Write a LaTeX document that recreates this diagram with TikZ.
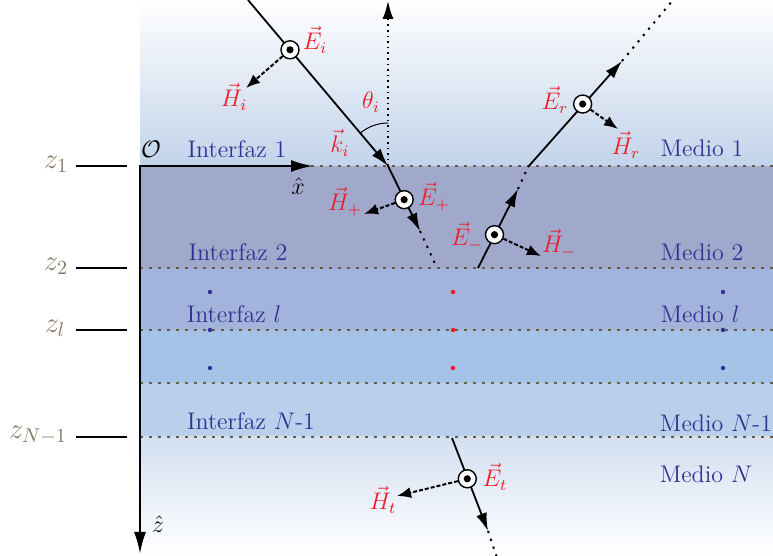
\documentclass[tikz,border=0pt]{standalone}
\usetikzlibrary{arrows.meta,calc}
\definecolor{lblue}{RGB}{46,49,146}
\definecolor{lred}{RGB}{237,28,36}
\definecolor{zbrown}{RGB}{135,120,95}
\definecolor{ifc}{RGB}{110,90,60}
\definecolor{mtwo}{RGB}{160,168,204}
\definecolor{ml}{RGB}{162,180,220}
\definecolor{mlb}{RGB}{165,195,230}
\definecolor{mnone}{RGB}{185,208,236}
\definecolor{mntop}{RGB}{211,224,241}
\definecolor{topb}{RGB}{194,211,234}
\begin{document}
\begin{tikzpicture}[x=0.5pt,y=-0.5pt,
  every node/.style={font=\large},
  bluelbl/.style={text=lblue},
  redlbl/.style={text=lred},
  zlbl/.style={text=zbrown,font=\Large},
  ifcline/.style={ifc,line width=0.7pt,dash pattern=on 1.5pt off 3pt},
  ray/.style={line width=0.9pt,-{Latex[length=9pt,width=5.5pt]}},
  dotext/.style={line width=1pt,dash pattern=on 1.1pt off 3pt},
  harrow/.style={line width=1pt,dash pattern=on 2pt off 1pt,-{Latex[length=7pt,width=5.5pt]}},
  ecirc/.style={circle,draw,fill=white,line width=0.7pt,minimum size=9pt,inner sep=0pt},
  axis/.style={line width=1.2pt,{Latex[length=11pt,width=6pt]}-{Latex[length=11pt,width=6pt]}},
  tick/.style={line width=0.9pt}
]
\useasboundingbox (0,0) rectangle (773,556);
\fill[white] (0,0) rectangle (773,556);
% backgrounds
\shade[top color=white,bottom color=topb] (140,0) rectangle (773,166);
\fill[mtwo] (140,166) rectangle (773,268);
\fill[ml] (140,268) rectangle (773,330);
\fill[mlb] (140,330) rectangle (773,383);
\fill[mnone] (140,383) rectangle (773,437);
\shade[top color=mntop,bottom color=white] (140,437) rectangle (773,556);
% interfaces
\foreach \yy in {166,268,330,383,437} \draw[ifcline] (140,\yy) -- (773,\yy);
% dots
\foreach \yy in {292,330,368} {
  \fill[lblue] (210,\yy) circle[radius=1.1pt];
  \fill[lred] (453,\yy) circle[radius=1.1pt];
  \fill[lblue] (723,\yy) circle[radius=1.1pt];
}
% axes
\coordinate (O) at (140,166);
\coordinate (Xe) at (313,166);
\coordinate (Ze) at (140,554);
\draw[axis] (Xe) -- (O) -- (Ze);
\node (Olbl) at (151,149) {$\mathcal{O}$};
\node (xh) at (298,186) {$\hat{x}$};
\node (zh) at (158,524) {$\hat{z}$};
% ticks and z labels
\foreach \nm/\yy/\lx/\txt in {a/166/56/{z_1}, b/268/56/{z_2}, c/330/55/{z_l}, d/437/38/{z_{N-1}}} {
  \coordinate (t\nm1) at (76,\yy);
  \coordinate (t\nm2) at (127,\yy);
  \draw[tick] (t\nm1) -- (t\nm2);
  \node[zlbl] (zl\nm) at (\lx,\yy-2) {$\txt$};
}
% medium / interface labels
\node[bluelbl] (if1) at (237,149) {Interfaz 1};
\node[bluelbl] (if2) at (238,252) {Interfaz 2};
\node[bluelbl] (ifl) at (234,314) {Interfaz $l$};
\node[bluelbl] (ifn) at (251,421) {Interfaz $N$-1};
\node[bluelbl] (md1) at (702,148) {Medio 1};
\node[bluelbl] (md2) at (702,252) {Medio 2};
\node[bluelbl] (mdl) at (700,314) {Medio $l$};
\node[bluelbl] (mdn1) at (716,423) {Medio $N$-1};
\node[bluelbl] (mdn) at (706,474) {Medio $N$};
% incident ray
\coordinate (Is) at (248,0);
\coordinate (A) at (388,166);
\coordinate (Vt) at (388,1);
\draw[line width=0.8pt,dotted,-{Latex[length=9pt,width=5.5pt]}] (A) -- (Vt);
\draw[ray] (Is) -- (A);
\draw[line width=0.5pt] (A) ++(-130.1:43) arc[start angle=-130.1,end angle=-90,radius=43];
\node[ecirc] (Ei) at ($(Is)!0.3!(A)$) {};
\fill (Ei) circle[radius=1.8pt];
\coordinate (Hie) at (246,88);
\draw[harrow] (Ei) -- (Hie);
\node[redlbl] (lEi) at (315,40) {$\vec{E}_i$};
\node[redlbl] (lHi) at (234,97) {$\vec{H}_i$};
\node[redlbl] (lth) at (371,102) {$\theta_i$};
\node[redlbl] (lki) at (340,143) {$\vec{k}_i$};
% transmitted into medium 2
\coordinate (Tp) at (420,231);
\coordinate (Tpe) at (437,268);
\draw[ray] (A) -- (Tp);
\draw[dotext] (Tp) -- (Tpe);
\node[ecirc] (Ep) at ($(A)!0.33!(Tpe)$) {};
\fill (Ep) circle[radius=1.8pt];
\coordinate (Hpe) at (364,214);
\draw[harrow] (Ep) -- (Hpe);
\node[redlbl] (lEp) at (434,197) {$\vec{E}_+$};
\node[redlbl] (lHp) at (345,202) {$\vec{H}_+$};
% reflected in medium 2
\coordinate (B0) at (478,268);
\coordinate (Bm) at (518,189);
\coordinate (B) at (528,167);
\draw[ray] (B0) -- (Bm);
\draw[dotext] (Bm) -- (B);
\node[ecirc] (Em) at ($(B0)!0.33!(B)$) {};
\fill (Em) circle[radius=1.8pt];
\coordinate (Hme) at (541,256);
\draw[harrow] (Em) -- (Hme);
\node[redlbl] (lEm) at (467,237) {$\vec{E}_-$};
\node[redlbl] (lHm) at (559,244) {$\vec{H}_-$};
% reflected in medium 1
\coordinate (Rm) at (622,61);
\coordinate (Re) at (673,0);
\draw[ray] (B) -- (Rm);
\draw[dotext] (Rm) -- (Re);
\node[ecirc] (Er) at ($(B)!0.377!(Re)$) {};
\fill (Er) circle[radius=1.8pt];
\coordinate (Hre) at (618,129);
\draw[harrow] (Er) -- (Hre);
\node[redlbl] (lEr) at (555,100) {$\vec{E}_r$};
\node[redlbl] (lHr) at (626,145) {$\vec{H}_r$};
% transmitted into medium N
\coordinate (C0) at (452,438);
\coordinate (Cm) at (488,531);
\coordinate (Ce) at (497,558);
\draw[ray] (C0) -- (Cm);
\draw[dotext] (Cm) -- (Ce);
\node[ecirc] (Et) at ($(C0)!0.34!(Ce)$) {};
\fill (Et) circle[radius=1.8pt];
\coordinate (Hte) at (397,496);
\draw[harrow] (Et) -- (Hte);
\node[redlbl] (lEt) at (495,477) {$\vec{E}_t$};
\node[redlbl] (lHt) at (383,500) {$\vec{H}_t$};
\end{tikzpicture}
\end{document}
